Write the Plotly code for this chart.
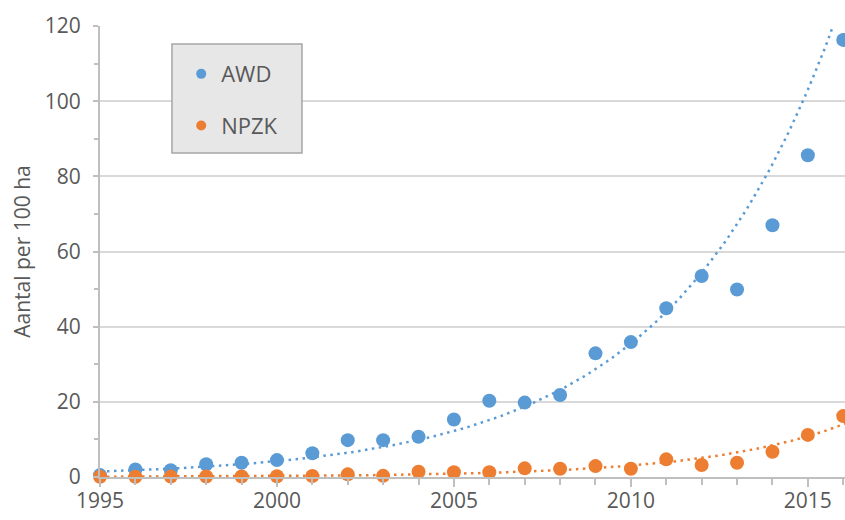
import numpy as np
import plotly.graph_objects as go

years = list(range(1995, 2017))
awd = [0.5, 2.0, 1.8, 3.4, 3.8, 4.5, 6.3, 9.8, 9.8, 10.7, 15.3, 20.3,
       19.8, 21.8, 32.9, 35.9, 44.9, 53.5, 49.9, 67.0, 85.6, 116.3]
npzk = [0.05, 0.08, 0.1, 0.15, 0.15, 0.2, 0.25, 0.7, 0.3, 1.4, 1.25, 1.25,
        2.3, 2.2, 2.9, 2.2, 4.7, 3.2, 3.8, 6.7, 11.2, 16.2]

BLUE = "#5B9BD5"
ORANGE = "#ED7D31"
FONT = "Open Sans"


# exponential trendline (least squares on log values, like Excel)
def exp_trend(x, y):
    x = np.array(x, dtype=float)
    b, lna = np.polyfit(x - x[0], np.log(np.array(y)), 1)
    xs = np.linspace(x[0], x[-1] + 0.1, 200)
    return xs, np.exp(lna) * np.exp(b * (xs - x[0]))


fig = go.Figure()
for name, vals, col in [("AWD", awd, BLUE), ("NPZK", npzk, ORANGE)]:
    tx, ty = exp_trend(years, vals)
    fig.add_trace(go.Scatter(x=tx, y=ty, mode="lines", showlegend=False,
                             line=dict(color=col, width=2.5, dash="2.5px,4.5px"),
                             hoverinfo="skip"))
for name, vals, col in [("AWD", awd, BLUE), ("NPZK", npzk, ORANGE)]:
    fig.add_trace(go.Scatter(x=years, y=vals, mode="markers", name=name,
                             showlegend=False, cliponaxis=False,
                             marker=dict(color=col, size=14)))
# legend entries with smaller symbols
for name, col in [("AWD", BLUE), ("NPZK", ORANGE)]:
    fig.add_trace(go.Scatter(x=[None], y=[None], mode="markers", name=name,
                             legendgroup=name,
                             marker=dict(color=col, size=10)))

fig.add_shape(type="rect", xref="paper", yref="paper",
              x0=0.0966, x1=0.2711, y0=0.7184, y1=0.9601,
              fillcolor="#E7E7E7", line=dict(color="#A6A6A6", width=1.5),
              layer="above")

fig.update_layout(
    width=845, height=520,
    margin=dict(l=100, r=0, t=26, b=43),
    paper_bgcolor="white", plot_bgcolor="white",
    font=dict(family=FONT, color="#595959"),
    legend=dict(x=0.109, y=0.94, xanchor="left", yanchor="top",
                bgcolor="rgba(0,0,0,0)", font=dict(size=22, color="#595959"),
                tracegroupgap=20),
    xaxis=dict(range=[1995, 2016.05], dtick=5, tick0=1995,
               showgrid=False, zeroline=False,
               showline=True, linecolor="#BFBFBF", linewidth=2,
               ticks="outside", ticklen=8, tickcolor="#BFBFBF", tickwidth=2,
               minor=dict(dtick=1, ticks="outside", ticklen=6,
                          tickcolor="#BFBFBF", tickwidth=2, showgrid=False),
               ticklabelstandoff=-4,
               tickfont=dict(size=21, color="#595959")),
    yaxis=dict(range=[0, 120], dtick=20, showgrid=True, gridcolor="#D9D9D9",
               gridwidth=1.5, zeroline=False,
               showline=True, linecolor="#BFBFBF", linewidth=2,
               ticks="outside", ticklen=5, tickcolor="#BFBFBF", tickwidth=1.5,
               minor=dict(dtick=10, ticks="outside", ticklen=4,
                          tickcolor="#BFBFBF", tickwidth=1.5, showgrid=False),
               ticklabelstandoff=8,
               tickfont=dict(size=21, color="#595959")),
)
fig.update_yaxes(title=dict(text="Aantal per 100 ha", standoff=8,
                            font=dict(size=21, color="#595959")))

# the page has a default body margin; remove it so the figure sits at 0,0
fig.write_html("out.html", config={"displayModeBar": False},
               post_script="document.body.style.margin='0';")
